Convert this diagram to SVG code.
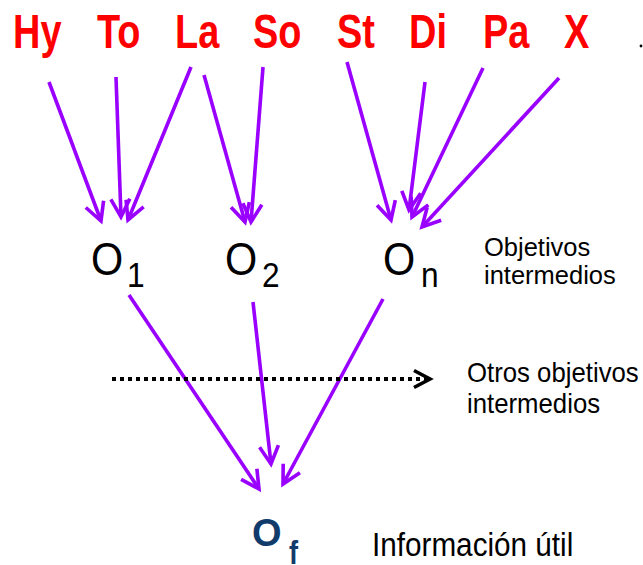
<svg xmlns="http://www.w3.org/2000/svg" width="643" height="565" viewBox="0 0 643 565">
  <style>
    .src { font-family: "Liberation Sans", Arial, sans-serif; font-weight: bold; font-size: 48px; fill: #ff0000; }
    .obj { font-family: "Liberation Sans", Arial, sans-serif; font-size: 46px; fill: #000000; }
    .sub { font-family: "Liberation Sans", Arial, sans-serif; font-size: 36px; fill: #000000; }
    .note { font-family: "Liberation Sans", Arial, sans-serif; font-size: 28px; fill: #000000; }
    .note2 { font-family: "Liberation Sans", Arial, sans-serif; font-size: 25px; fill: #000000; }
    .fin { font-family: "Liberation Sans", Arial, sans-serif; font-weight: bold; fill: #113b6b; }
    .info { font-family: "Liberation Sans", Arial, sans-serif; font-size: 33px; fill: #000000; }
    .pa { stroke: #9900ff; stroke-width: 3.6; fill: none; marker-end: url(#ph); }
    .dot { stroke: #000000; stroke-width: 4; stroke-dasharray: 4 4; fill: none; marker-end: url(#bh); }
  </style>
  <defs>
    <marker id="ph" markerUnits="userSpaceOnUse" markerWidth="40" markerHeight="40" viewBox="-25 -20 30 40" refX="0" refY="0" orient="auto" overflow="visible">
      <path d="M -18 -9.5 L 0 0 L -18 9.5" fill="none" stroke="#9900ff" stroke-width="3.6" stroke-linejoin="miter" stroke-miterlimit="10"/>
    </marker>
    <marker id="bh" markerUnits="userSpaceOnUse" markerWidth="40" markerHeight="40" viewBox="-25 -20 30 40" refX="0" refY="0" orient="auto" overflow="visible">
      <path d="M -16 -8.5 L 0 0 L -16 8.5" fill="none" stroke="#000000" stroke-width="3.6" stroke-linejoin="miter" stroke-miterlimit="10"/>
    </marker>
  </defs>

  <g id="src-Hy"><text class="src" transform="translate(13,48) scale(0.79,1)">Hy</text></g>
  <g id="src-To"><text class="src" transform="translate(97,48) scale(0.79,1)">To</text></g>
  <g id="src-La"><text class="src" transform="translate(175,48) scale(0.79,1)">La</text></g>
  <g id="src-So"><text class="src" transform="translate(253,48) scale(0.79,1)">So</text></g>
  <g id="src-St"><text class="src" transform="translate(337,48) scale(0.79,1)">St</text></g>
  <g id="src-Di"><text class="src" transform="translate(409,48) scale(0.79,1)">Di</text></g>
  <g id="src-Pa"><text class="src" transform="translate(483,48) scale(0.79,1)">Pa</text></g>
  <g id="src-X"><text class="src" transform="translate(564,48) scale(0.79,1)">X</text></g>
  <circle cx="641" cy="46" r="1.4" fill="#000000"/>

  <g id="O1">
    <text class="obj" transform="translate(91,275) scale(0.9,1)">O</text>
    <text class="sub" transform="translate(127,287) scale(0.88,1)">1</text>
  </g>
  <g id="O2">
    <text class="obj" transform="translate(225,275) scale(0.9,1)">O</text>
    <text class="sub" transform="translate(262,287) scale(0.88,1)">2</text>
  </g>
  <g id="On">
    <text class="obj" transform="translate(383,275) scale(0.9,1)">O</text>
    <text class="sub" transform="translate(421,287) scale(0.88,1)">n</text>
  </g>
  <g id="label-intermedios">
    <text class="note2" transform="translate(484,256) scale(1.02,1)">Objetivos</text>
    <text class="note2" transform="translate(484,284) scale(1.02,1)">intermedios</text>
  </g>
  <g id="label-otros">
    <text class="note" transform="translate(467,382) scale(0.92,1)">Otros objetivos</text>
    <text class="note" transform="translate(467,413) scale(0.92,1)">intermedios</text>
  </g>
  <g id="Of">
    <text class="fin" font-size="38" transform="translate(252,546)">O</text>
    <text class="fin" font-size="34" transform="translate(289,564) scale(0.8,1)">f</text>
  </g>
  <g id="label-info">
    <text class="info" transform="translate(372,556) scale(0.9,1)">Información útil</text>
  </g>

  <g id="connectors">
    <line class="pa" x1="49" y1="82" x2="101" y2="221"/>
    <line class="pa" x1="116" y1="77" x2="121" y2="217"/>
    <line class="pa" x1="191" y1="67" x2="128" y2="220"/>
    <line class="pa" x1="204" y1="75" x2="245" y2="222"/>
    <line class="pa" x1="263" y1="67" x2="251" y2="222"/>
    <line class="pa" x1="347" y1="62" x2="391" y2="220"/>
    <line class="pa" x1="425" y1="82" x2="409" y2="210"/>
    <line class="pa" x1="483" y1="68" x2="412" y2="217"/>
    <line class="pa" x1="559" y1="78" x2="422" y2="227"/>
    <line class="pa" x1="129" y1="295" x2="259" y2="489"/>
    <line class="pa" x1="253" y1="302" x2="271" y2="464"/>
    <line class="pa" x1="383" y1="299" x2="283" y2="484"/>
    <line class="dot" x1="112" y1="379" x2="430" y2="379"/>
  </g>
</svg>
